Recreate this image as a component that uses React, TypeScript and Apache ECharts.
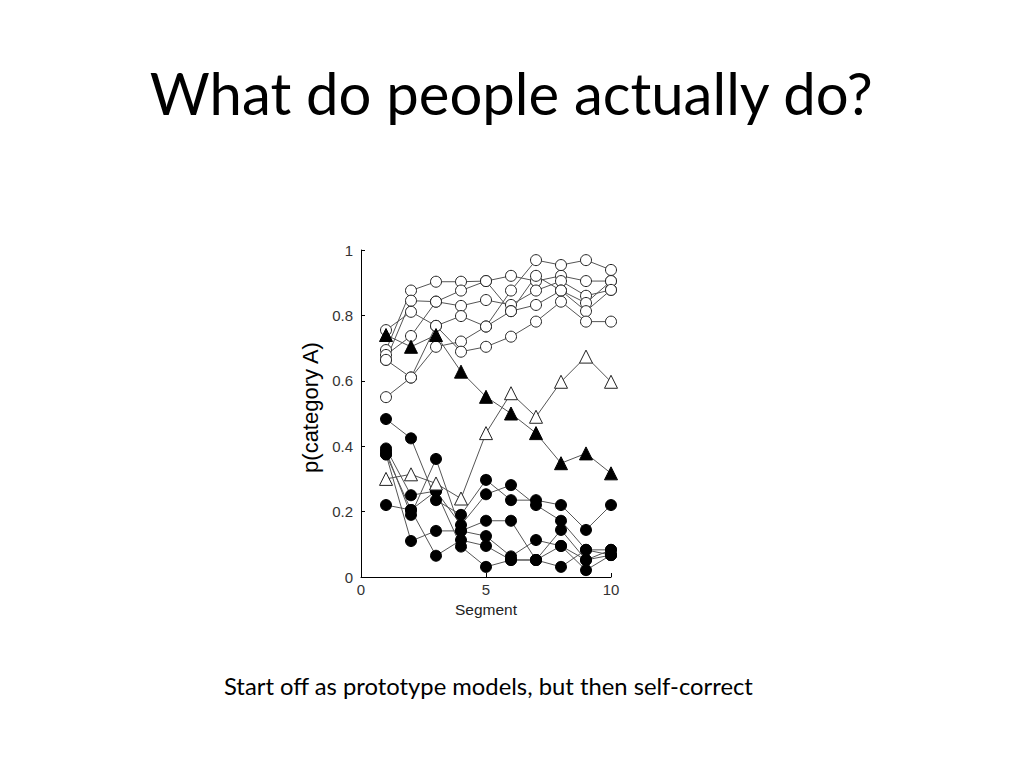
import React, { useEffect, useRef } from "react";
import * as echarts from "echarts";

const segments = [1, 2, 3, 4, 5, 6, 7, 8, 9, 10];

const openCircleSeries = [
  [0.694, 0.876, 0.903, 0.903, 0.905, 0.921, 0.905, 0.921, 0.905, 0.905],
  [0.664, 0.845, 0.842, 0.829, 0.847, 0.832, 0.876, 0.905, 0.86, 0.878],
  [0.755, 0.811, 0.768, 0.798, 0.766, 0.876, 0.969, 0.954, 0.969, 0.939],
  [0.679, 0.737, 0.842, 0.876, 0.905, 0.813, 0.921, 0.876, 0.838, 0.905],
  [0.55, 0.61, 0.704, 0.72, 0.766, 0.813, 0.832, 0.876, 0.813, 0.878],
  [0.664, 0.61, 0.768, 0.689, 0.704, 0.735, 0.781, 0.842, 0.781, 0.781],
];

const filledCircleSeries = [
  [0.483, 0.424, 0.235, 0.19, 0.297, 0.235, 0.235, 0.22, 0.144, 0.22],
  [0.393, 0.25, 0.263, 0.159, 0.253, 0.281, 0.22, 0.172, 0.083, 0.067],
  [0.385, 0.19, 0.361, 0.141, 0.172, 0.172, 0.052, 0.144, 0.052, 0.083],
  [0.375, 0.11, 0.141, 0.141, 0.125, 0.063, 0.113, 0.095, 0.021, 0.067],
  [0.375, 0.205, 0.065, 0.113, 0.095, 0.052, 0.052, 0.031, 0.083, 0.083],
  [0.22, 0.205, 0.263, 0.093, 0.031, 0.052, 0.052, 0.095, 0.052, 0.067],
];

const filledTriangleSeries = [0.74, 0.704, 0.74, 0.628, 0.551, 0.5, 0.44, 0.348, 0.378, 0.317];
const openTriangleSeries = [0.3, 0.314, 0.286, 0.24, 0.44, 0.562, 0.49, 0.597, 0.674, 0.597];

const titleText = "What do people actually do?";
const captionText = "Start off as prototype models, but then self-correct";
const xAxisName = "Segment";
const yAxisName = "p(category A)";

function toPoints(values: number[]) {
  return values.map((v, i) => [segments[i], v]);
}

export default function App() {
  const ref = useRef<HTMLDivElement>(null);
  useEffect(() => {
    if (!ref.current) return;
    const chart = echarts.init(ref.current, null, { renderer: "svg" });
    const lineStyle = { color: "#555", width: 1 };
    const series: any[] = [];
    openCircleSeries.forEach((s, i) => {
      series.push({
        type: "line",
        name: "open" + i,
        data: toPoints(s),
        symbol: "circle",
        symbolSize: 11,
        showAllSymbol: true,
        lineStyle,
        itemStyle: { color: "#fff", borderColor: "#222", borderWidth: 1 },
        z: 2,
      });
    });
    filledCircleSeries.forEach((s, i) => {
      series.push({
        type: "line",
        name: "filled" + i,
        data: toPoints(s),
        symbol: "circle",
        symbolSize: 11,
        showAllSymbol: true,
        lineStyle,
        itemStyle: { color: "#000", borderColor: "#000", borderWidth: 1 },
        z: 3,
      });
    });
    series.push({
      type: "line",
      name: "openTri",
      data: toPoints(openTriangleSeries),
      symbol: "triangle",
      symbolSize: 13,
      showAllSymbol: true,
      lineStyle,
      itemStyle: { color: "#fff", borderColor: "#222", borderWidth: 1 },
      z: 4,
    });
    series.push({
      type: "line",
      name: "filledTri",
      data: toPoints(filledTriangleSeries),
      symbol: "triangle",
      symbolSize: 13,
      showAllSymbol: true,
      lineStyle,
      itemStyle: { color: "#000", borderColor: "#000", borderWidth: 1 },
      z: 5,
    });

    chart.setOption({
      animation: false,
      backgroundColor: "#fff",
      grid: { left: 361, top: 250, width: 250, height: 327 },
      xAxis: {
        type: "value",
        min: 0,
        max: 10,
        interval: 5,
        name: xAxisName,
        nameLocation: "middle",
        nameGap: 24,
        nameTextStyle: { color: "#222", fontSize: 15.5, fontFamily: "Liberation Sans" },
        axisLine: { lineStyle: { color: "#000", width: 1 } },
        axisTick: { inside: true, length: 4, lineStyle: { color: "#000" } },
        axisLabel: { color: "#333", fontSize: 15, fontFamily: "Liberation Sans", margin: 5 },
        splitLine: { show: false },
      },
      yAxis: {
        type: "value",
        min: 0,
        max: 1,
        interval: 0.2,
        name: yAxisName,
        nameLocation: "middle",
        nameGap: 40,
        nameTextStyle: { color: "#000", fontSize: 22, fontFamily: "Liberation Sans", padding: [0, 0, 0, 12] },
        axisLine: { lineStyle: { color: "#000", width: 1 } },
        axisTick: { inside: true, length: 4, lineStyle: { color: "#000" } },
        axisLabel: { color: "#333", fontSize: 15, fontFamily: "Liberation Sans", margin: 8 },
        splitLine: { show: false },
      },
      graphic: [
        {
          type: "text",
          left: "center",
          top: 63,
          style: {
            text: titleText,
            fontSize: 58,
            fontFamily: "Lato",
            fill: "#000",
          },
        },
        {
          type: "text",
          left: 224,
          top: 674,
          style: {
            text: captionText,
            fontSize: 23.8,
            fontFamily: "Lato",
            fill: "#000",
          },
        },
      ],
      series,
    });
    return () => chart.dispose();
  }, []);
  return (
    <div
      ref={ref}
      style={{ position: "fixed", left: 0, top: 0, width: 1024, height: 768 }}
    />
  );
}
